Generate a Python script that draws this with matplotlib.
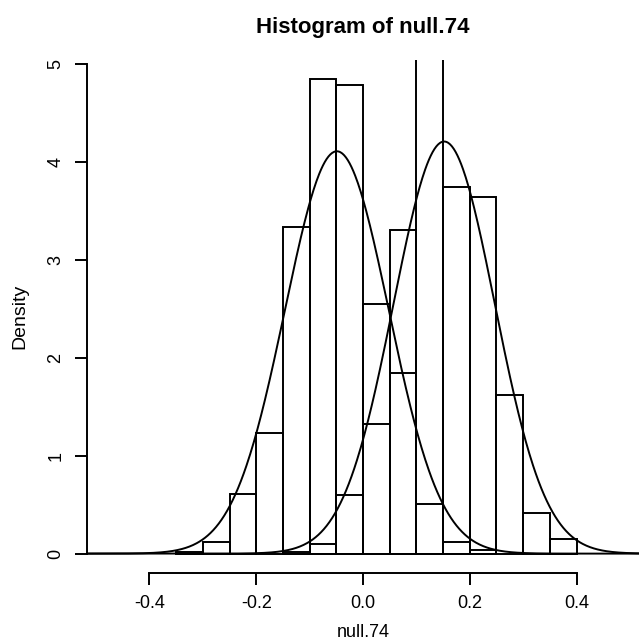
import numpy as np
import matplotlib
matplotlib.use("Agg")
import matplotlib.pyplot as plt

plt.rcParams["font.family"] = ["Liberation Sans", "DejaVu Sans"]

# histogram 1 (left, centred near -0.05): bin left edges and densities
BINS_A = [-0.35, -0.30, -0.25, -0.20, -0.15, -0.10, -0.05, 0.00, 0.05, 0.10, 0.15, 0.20]
DENS_A = [0.02, 0.12, 0.61, 1.23, 3.34, 4.85, 4.79, 2.55, 1.84, 0.51, 0.12, 0.04]

# histogram 2 (right, centred near 0.15); the 0.10-0.15 bin runs off the top
BINS_B = [-0.15, -0.10, -0.05, 0.00, 0.05, 0.10, 0.15, 0.20, 0.25, 0.30, 0.35]
DENS_B = [0.02, 0.10, 0.60, 1.32, 3.30, 5.10, 3.74, 3.64, 1.62, 0.41, 0.15]

BIN_WIDTH = 0.05

# normal curves overlaid: (mean, sd)
NORM_A = (-0.049, 0.0971)
NORM_B = (0.152, 0.0948)

XTICKS = [-0.4, -0.2, 0.0, 0.2, 0.4]
YTICKS = [0, 1, 2, 3, 4, 5]
XLIM = (-0.517, 0.517)
YLIM = (-0.194, 5.044)

LW = 1.4


def dnorm(x, mu, sd):
    return np.exp(-0.5 * ((x - mu) / sd) ** 2) / (sd * np.sqrt(2 * np.pi))


fig = plt.figure(figsize=(6.43, 6.41), dpi=100)
ax = fig.add_axes([0.1353, 0.1067, 0.8585, 0.8002])

ax.bar(BINS_A, DENS_A, width=BIN_WIDTH, align="edge", fill=False,
       edgecolor="black", linewidth=LW)
ax.bar(BINS_B, DENS_B, width=BIN_WIDTH, align="edge", fill=False,
       edgecolor="black", linewidth=LW)

xs = np.linspace(XLIM[0], XLIM[1], 600)
ax.plot(xs, dnorm(xs, *NORM_A), color="black", linewidth=LW)
ax.plot(xs, dnorm(xs, *NORM_B), color="black", linewidth=LW)

ax.set_xlim(*XLIM)
ax.set_ylim(*YLIM)

for side in ("top", "right"):
    ax.spines[side].set_visible(False)
ax.spines["left"].set_bounds(YTICKS[0], YTICKS[-1])
ax.spines["bottom"].set_bounds(XTICKS[0], XTICKS[-1])
for side in ("left", "bottom"):
    ax.spines[side].set_linewidth(LW)

ax.set_xticks(XTICKS)
ax.set_xticklabels([f"{v:.1f}" for v in XTICKS])
ax.set_yticks(YTICKS)
ax.set_yticklabels([str(v) for v in YTICKS], rotation=90, va="center")
ax.tick_params(axis="both", direction="out", length=8.4, width=LW, labelsize=13)
ax.tick_params(axis="x", pad=8)
ax.tick_params(axis="y", pad=8)

ax.set_xlabel("null.74", fontsize=13, va="center")
ax.xaxis.set_label_coords(0.5, -0.116)
ax.set_ylabel("Density", fontsize=14, va="center")
ax.yaxis.set_label_coords(-0.121, 0.5)

ax.text(0.5, 1.062, "Histogram of null.74", transform=ax.transAxes,
        fontsize=16, fontweight="bold", ha="center", va="center")

fig.savefig("out.png", dpi=100)
